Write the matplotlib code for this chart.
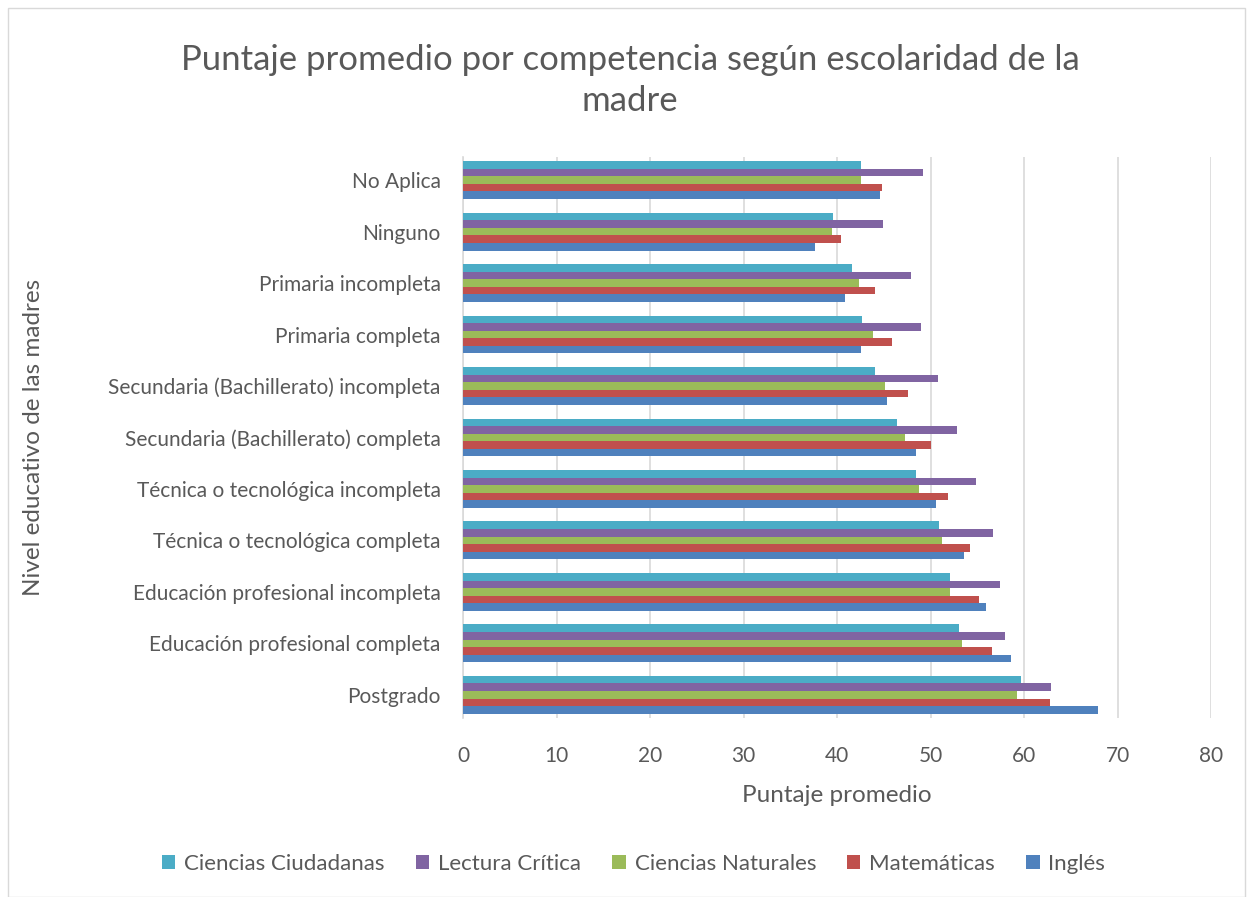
import numpy as np
import matplotlib.pyplot as plt
from matplotlib.patches import Rectangle

plt.rcParams['font.family'] = ['Lato', 'DejaVu Sans']

categorias = ['No Aplica', 'Ninguno', 'Primaria incompleta', 'Primaria completa',
              'Secundaria (Bachillerato) incompleta', 'Secundaria (Bachillerato) completa',
              'Técnica o tecnológica incompleta', 'Técnica o tecnológica completa',
              'Educación profesional incompleta', 'Educación profesional completa',
              'Postgrado']

ciudadanas = [42.6, 39.6, 41.6, 42.7, 44.1, 46.4, 48.4, 50.9, 52.1, 53.0, 59.7]
lectura = [49.2, 44.9, 47.9, 49.0, 50.8, 52.8, 54.9, 56.7, 57.4, 58.0, 62.9]
naturales = [42.6, 39.5, 42.4, 43.8, 45.1, 47.3, 48.8, 51.2, 52.1, 53.4, 59.3]
matematicas = [44.8, 40.4, 44.1, 45.9, 47.6, 50.1, 51.9, 54.2, 55.2, 56.6, 62.8]
ingles = [44.6, 37.6, 40.9, 42.6, 45.4, 48.4, 50.6, 53.6, 55.9, 58.6, 67.9]

series = [('Ciencias Ciudadanas', ciudadanas, '#4BACC6'),
          ('Lectura Crítica', lectura, '#8064A2'),
          ('Ciencias Naturales', naturales, '#9BBB59'),
          ('Matemáticas', matematicas, '#C0504D'),
          ('Inglés', ingles, '#4F81BD')]

gris = '#595959'
fig = plt.figure(figsize=(12.5, 8.97), dpi=100)
ax = fig.add_axes([0.3704, 0.1996, 0.5984, 0.6254])

y = np.arange(len(categorias))
h = 0.147
for i, (nombre, vals, color) in enumerate(series):
    ax.barh(y + (i - 2) * h, vals, height=h, color=color, label=nombre, zorder=3)

ax.set_xlim(0, 80)
ax.set_xticks(range(0, 81, 10))
ax.set_ylim(10.45, -0.45)
ax.set_yticks(y)
ax.set_yticklabels(categorias)
ax.grid(axis='x', color='#D9D9D9', linewidth=1.2, zorder=0)
for s in ['top', 'right', 'bottom']:
    ax.spines[s].set_visible(False)
ax.spines['left'].set_color('#D9D9D9')
ax.spines['left'].set_linewidth(1.2)
ax.tick_params(length=0, labelsize=15, labelcolor=gris)
ax.tick_params(axis='y', pad=16)
ax.tick_params(axis='x', pad=20)

ax.set_xlabel('Puntaje promedio', fontsize=17.5, color=gris, labelpad=14)
fig.text(0.027, 0.512, 'Nivel educativo de las madres', rotation=90, fontsize=17.5,
         color=gris, ha='center', va='center')
fig.text(0.504, 0.91, 'Puntaje promedio por competencia según escolaridad de la\nmadre',
         fontsize=25, color=gris, ha='center', va='center', linespacing=1.35)

fig.legend(loc='center', bbox_to_anchor=(0.507, 0.037), ncol=5, frameon=False,
           fontsize=16, labelcolor=gris, handlelength=0.6, handleheight=0.6,
           handletextpad=0.4, columnspacing=1.4)

fig.patches.append(Rectangle((0.006, 0.0), 0.99, 0.991, transform=fig.transFigure,
                             fill=False, edgecolor='#D9D9D9', linewidth=1))

fig.savefig('out.png', dpi=100)
